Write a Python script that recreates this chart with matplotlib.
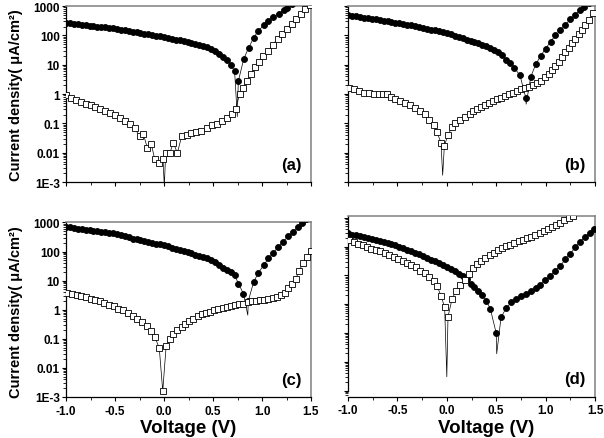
import numpy as np
import matplotlib
matplotlib.use('Agg')
import matplotlib.pyplot as plt
from matplotlib.ticker import MultipleLocator, LogLocator, NullFormatter

plt.rcParams['font.family'] = ['Liberation Sans', 'DejaVu Sans']
plt.rcParams['font.weight'] = 'bold'

# ---------------- data (current density in uA/cm2 vs voltage in V) ----------------
# filled circles: dense part on a 0.04 V grid, then the sparser points
a_circ_dense_v = np.round(-1.0 + 0.04 * np.arange(43), 2)
a_circ_dense_j = [269, 259, 250, 241, 232, 224, 216, 208, 200, 193, 186, 179, 173, 166, 157,
                  149, 141, 134, 127, 120, 114, 108, 102, 97, 92, 87, 82, 77, 72, 67, 63, 59,
                  56, 52, 48, 44, 39, 33, 29, 23, 18.6, 14.1, 9.8]
a_circ_v = [0.72, 0.758, 0.813, 0.864, 0.915, 0.96, 1.017, 1.06, 1.115, 1.17, 1.22, 1.26, 1.31]
a_circ_j = [6.2, 2.7, 15.5, 38, 82, 141, 218, 309, 424, 552, 718, 890, 1150]
a_circ_dip_v = [0.748]
a_circ_dip_j = [0.17]
a_sq_v = [-1.00, -0.95, -0.90, -0.85, -0.80, -0.75, -0.70, -0.65, -0.60, -0.55, -0.50, -0.45,
          -0.40, -0.35, -0.30, -0.25, -0.21, -0.17, -0.13, -0.095, -0.055, -0.01, 0.017, 0.06,
          0.095, 0.136, 0.18, 0.23, 0.28, 0.33, 0.38, 0.435, 0.486, 0.537, 0.588, 0.639, 0.69,
          0.73, 0.772, 0.81, 0.844, 0.884, 0.929, 0.97, 1.014, 1.065, 1.109, 1.16, 1.207,
          1.252, 1.303, 1.347, 1.395, 1.44, 1.485]
a_sq_j = [0.93, 0.73, 0.62, 0.55, 0.47, 0.41, 0.36, 0.30, 0.26, 0.23, 0.186, 0.155, 0.125,
          0.096, 0.070, 0.036, 0.042, 0.0145, 0.020, 0.0060, 0.0044, 0.0061, 0.0098, 0.0098,
          0.022, 0.0098, 0.036, 0.040, 0.047, 0.051, 0.056, 0.070, 0.085, 0.098, 0.12, 0.155,
          0.21, 0.32, 1.0, 1.66, 2.8, 4.8, 8.1, 12.5, 20, 30, 48, 76, 113, 170, 250, 370, 552,
          820, 1100]
a_sq_dip_v = [0.003]
a_sq_dip_j = [0.0007]

b_circ_dense_v = np.round(-1.0 + 0.04 * np.arange(43), 2)
b_circ_dense_j = [479, 459, 441, 423, 406, 389, 370, 352, 334, 318, 302, 287, 273, 259, 247,
                  234, 220, 206, 193, 181, 170, 158, 148, 138, 129, 120, 109, 98, 89, 80, 72,
                  65, 59, 53, 47, 42, 37, 32, 27, 21, 15, 11.5, 8.0]
b_circ_v = [0.74, 0.80, 0.85, 0.90, 0.95, 1.00, 1.05, 1.10, 1.15, 1.20, 1.25, 1.30, 1.35, 1.39, 1.44]
b_circ_j = [4.4, 0.73, 3.9, 10.2, 20, 35, 61, 100, 147, 230, 350, 510, 720, 940, 1250]
b_circ_dip_v = [0.803]
b_circ_dip_j = [0.45]
b_sq_v = [-0.993, -0.943, -0.892, -0.842, -0.791, -0.740, -0.690, -0.649, -0.605, -0.561,
          -0.521, -0.470, -0.420, -0.369, -0.318, -0.268, -0.217, -0.177, -0.133, -0.099,
          -0.059, -0.025, 0.012, 0.053, 0.086, 0.137, 0.187, 0.23, 0.27, 0.31, 0.35, 0.39,
          0.43, 0.47, 0.51, 0.55, 0.59, 0.63, 0.67, 0.71, 0.75, 0.79, 0.83, 0.87, 0.91, 0.95,
          0.99, 1.03, 1.064, 1.098, 1.132, 1.165, 1.199, 1.233, 1.267, 1.30, 1.334, 1.368,
          1.402, 1.44, 1.48]
b_sq_j = [1.66, 1.46, 1.27, 1.12, 1.06, 1.04, 0.98, 0.98, 1.0, 0.79, 0.66, 0.58, 0.48, 0.41,
          0.34, 0.27, 0.21, 0.13, 0.085, 0.049, 0.022, 0.017, 0.041, 0.073, 0.10, 0.134, 0.165,
          0.21, 0.26, 0.32, 0.37, 0.43, 0.51, 0.58, 0.66, 0.75, 0.86, 0.98, 1.12, 1.27, 1.45,
          1.66, 1.80, 2.0, 2.35, 2.8, 3.7, 4.8, 6.8, 9.2, 12.5, 17.7, 26.5, 37, 53, 76, 113,
          158, 230, 330, 560]
b_sq_dip_v = [-0.042]
b_sq_dip_j = [0.0017]

c_circ_dense_v = np.round(-1.0 + 0.04 * np.arange(43), 2)
c_circ_dense_j = [708, 678, 649, 621, 594, 569, 545, 521, 499, 478, 457, 438, 419, 391, 360,
                  331, 305, 279, 261, 245, 230, 215, 201, 189, 177, 166, 151, 137, 125, 114,
                  104, 94, 86, 79, 71, 64, 58, 52, 43, 35, 28, 24, 19.5]
c_circ_v = [0.72, 0.76, 0.81, 0.86, 0.915, 0.963, 1.017, 1.065, 1.116, 1.167, 1.218, 1.269,
            1.32, 1.37, 1.405, 1.45]
c_circ_j = [15.4, 7.9, 3.6, 2.0, 9.1, 18.6, 34, 58, 91, 147, 220, 345, 490, 725, 950, 1300]
c_circ_dip_v = [0.855]
c_circ_dip_j = [0.65]
c_sq_v = [-0.986, -0.935, -0.891, -0.847, -0.799, -0.748, -0.704, -0.656, -0.609, -0.561,
          -0.514, -0.466, -0.418, -0.371, -0.32, -0.272, -0.228, -0.177, -0.133, -0.092,
          -0.048, -0.013, 0.022, 0.061, 0.095, 0.136, 0.18, 0.214, 0.255, 0.299, 0.344, 0.384,
          0.425, 0.469, 0.514, 0.554, 0.599, 0.639, 0.684, 0.724, 0.765, 0.81, 0.854, 0.895,
          0.936, 0.98, 1.024, 1.065, 1.109, 1.15, 1.19, 1.235, 1.269, 1.303, 1.344, 1.381,
          1.415, 1.456, 1.497]
c_sq_j = [3.8, 3.5, 3.3, 3.0, 2.75, 2.4, 2.2, 1.95, 1.7, 1.48, 1.3, 1.08, 0.95, 0.79, 0.60,
          0.48, 0.38, 0.27, 0.18, 0.114, 0.047, 0.0016, 0.058, 0.10, 0.148, 0.20, 0.26, 0.33,
          0.41, 0.49, 0.59, 0.69, 0.78, 0.85, 0.95, 1.02, 1.15, 1.24, 1.30, 1.41, 1.52, 1.62,
          1.85, 1.95, 2.0, 2.1, 2.2, 2.4, 2.6, 2.75, 3.3, 3.9, 5.4, 7.5, 11.7, 22, 39, 66, 107]
c_sq_dip_v = []
c_sq_dip_j = []

d_circ_dense_v = np.round(-1.0 + 0.04 * np.arange(37), 2)
d_circ_dense_j = [285, 262, 243, 229, 217, 200, 183, 167, 154, 143, 131, 121, 110, 98, 89, 78,
                  70, 61, 54, 47, 41, 35.5, 31, 27, 23, 19.5, 16.5, 13.8, 11.2, 9.3, 7.2, 5.2,
                  4.0, 2.9, 2.0, 1.3, 0.7]
d_circ_v = [0.50, 0.549, 0.602, 0.653, 0.703, 0.751, 0.805, 0.852, 0.899, 0.947, 0.997, 1.048,
            1.098, 1.149, 1.20, 1.25, 1.30, 1.35, 1.40, 1.453, 1.487]
d_circ_j = [0.098, 0.35, 0.74, 1.15, 1.5, 1.86, 2.25, 2.8, 3.6, 4.7, 6.9, 9.7, 14.5, 21.5, 36,
            57, 93, 145, 217, 305, 400]
d_circ_dip_v = [0.505]
d_circ_dip_j = [0.019]
d_sq_v = [-0.987, -0.943, -0.899, -0.852, -0.808, -0.764, -0.717, -0.673, -0.629, -0.582,
          -0.538, -0.494, -0.447, -0.403, -0.359, -0.312, -0.268, -0.224, -0.177, -0.133,
          -0.099, -0.059, -0.022, 0.012, 0.053, 0.093, 0.137, 0.181, 0.225, 0.265, 0.306,
          0.346, 0.39, 0.434, 0.474, 0.515, 0.559, 0.603, 0.643, 0.683, 0.727, 0.771, 0.812,
          0.852, 0.896, 0.94, 0.98, 1.021, 1.065, 1.108, 1.149, 1.19, 1.233, 1.275]
d_sq_j = [166, 145, 127, 111, 97, 85, 75, 68, 58, 50, 44, 36, 32, 27, 23, 18.8, 14.4, 11.8,
          9.0, 6.5, 4.3, 1.97, 0.78, 0.37, 1.5, 2.9, 4.7, 6.9, 11, 17.7, 24.5, 32, 41, 51, 62,
          75, 88, 102, 117, 134, 154, 175, 195, 222, 253, 297, 350, 400, 480, 565, 680, 820,
          1000, 1200]
d_sq_dip_v = [0.0]
d_sq_dip_j = [0.003]

ytick_vals = [1e-3, 1e-2, 1e-1, 1, 10, 100, 1000]
ytick_labels = ['1E-3', '0.01', '0.1', '1', '10', '100', '1000']
xtick_vals = [-1.0, -0.5, 0.0, 0.5, 1.0, 1.5]
xtick_labels = ['-1.0', '-0.5', '0.0', '0.5', '1.0', '1.5']


def series(ax, v, j, dip_v, dip_j, marker, face, ms):
    v = np.asarray(v, float)
    j = np.asarray(j, float)
    lv = np.concatenate([v, dip_v])
    lj = np.concatenate([j, dip_j])
    order = np.argsort(lv)
    ax.plot(lv[order], lj[order], '-', color='k', lw=0.5, zorder=2)
    ax.plot(v, j, linestyle='none', marker=marker, ms=ms, mfc=face, mec='k', mew=0.6, zorder=3)


def panel(rect, cv, cj, cdv, cdj, sv, sj, sdv, sdj, tag, left, bottom, ylim=(1e-3, 1e3)):
    ax = fig.add_axes(rect)
    series(ax, cv, cj, cdv, cdj, 'o', 'k', 4.3)
    series(ax, sv, sj, sdv, sdj, 's', 'white', 4.0)
    ax.set_yscale('log')
    ax.set_xlim(-1.0, 1.5)
    ax.set_ylim(*ylim)
    ax.set_yticks(ytick_vals)
    ax.set_yticklabels(ytick_labels if left else [])
    ax.yaxis.set_minor_locator(LogLocator(base=10, subs=np.arange(2, 10)))
    ax.yaxis.set_minor_formatter(NullFormatter())
    ax.set_xticks(xtick_vals)
    ax.set_xticklabels(xtick_labels if bottom else [])
    ax.xaxis.set_minor_locator(MultipleLocator(0.25))
    ax.tick_params(which='major', direction='out', length=3, width=0.8, labelsize=8.5, pad=1.5)
    ax.tick_params(which='minor', direction='out', length=2, width=0.6)
    ax.tick_params(axis='x', pad=2.5)
    for s in ['left', 'bottom']:
        ax.spines[s].set_linewidth(0.9)
        ax.spines[s].set_color('k')
    for s in ['top', 'right']:
        ax.spines[s].set_linewidth(1.1)
        ax.spines[s].set_color('0.5')
    ax.text(0.96, 0.10, tag, transform=ax.transAxes, ha='right', va='center',
            fontsize=12, fontweight='bold')
    return ax


fig = plt.figure(figsize=(6.04, 4.39), dpi=100)

panel([0.1093, 0.5831, 0.4056, 0.4009], np.concatenate([a_circ_dense_v, a_circ_v]),
      a_circ_dense_j + a_circ_j, a_circ_dip_v, a_circ_dip_j,
      a_sq_v, a_sq_j, a_sq_dip_v, a_sq_dip_j, '(a)', True, False)
panel([0.5762, 0.5831, 0.4089, 0.4009], np.concatenate([b_circ_dense_v, b_circ_v]),
      b_circ_dense_j + b_circ_j, b_circ_dip_v, b_circ_dip_j,
      b_sq_v, b_sq_j, b_sq_dip_v, b_sq_dip_j, '(b)', False, False)
panel([0.1093, 0.0934, 0.4056, 0.3975], np.concatenate([c_circ_dense_v, c_circ_v]),
      c_circ_dense_j + c_circ_j, c_circ_dip_v, c_circ_dip_j,
      c_sq_v, c_sq_j, c_sq_dip_v, c_sq_dip_j, '(c)', True, True)
axd = panel([0.5762, 0.0945, 0.4089, 0.4112], np.concatenate([d_circ_dense_v, d_circ_v]),
            d_circ_dense_j + d_circ_j, d_circ_dip_v, d_circ_dip_j,
            d_sq_v, d_sq_j, d_sq_dip_v, d_sq_dip_j, '(d)', False, True,
            ylim=(10 ** -3.2076, 10 ** 3.062))
axd.spines['left'].set_bounds(1e-3, 10 ** 3.062)

ylab = 'Current density( \u03bcA/cm\u00b2)'
fig.text(0.0265, 0.7836, ylab, rotation=90, ha='center', va='center', fontsize=10.5,
         fontweight='bold')
fig.text(0.0265, 0.2893, ylab, rotation=90, ha='center', va='center', fontsize=10.5,
         fontweight='bold')
fig.text(188 / 604, 0.025, 'Voltage (V)', ha='center', va='center', fontsize=13.5,
         fontweight='bold')
fig.text(486 / 604, 0.025, 'Voltage (V)', ha='center', va='center', fontsize=13.5,
         fontweight='bold')

fig.savefig('out.png', dpi=100)
